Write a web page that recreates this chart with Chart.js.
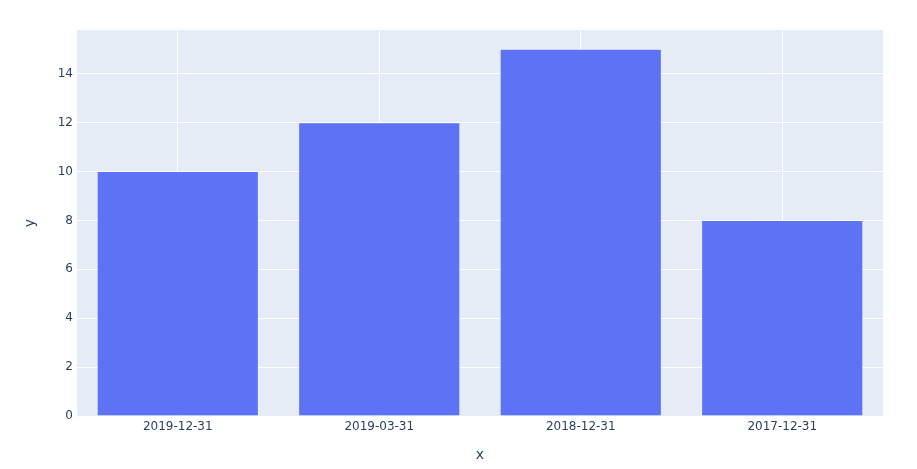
<!DOCTYPE html>
<html>
<head>
<meta charset="utf-8">
<script src="https://cdn.jsdelivr.net/npm/chart.js@4"></script>
<style>
  html, body { margin: 0; padding: 0; background: #fff; }
  #wrap { width: 917px; height: 469px; position: relative; }
</style>
</head>
<body>
<div id="wrap"><canvas id="chart"></canvas></div>
<script>
// data
const categories = ["2019-12-31", "2019-03-31", "2018-12-31", "2017-12-31"];
const values = [10, 12, 15, 8];
const yTicks = [0, 2, 4, 6, 8, 10, 12, 14];
const yMax = 15.79;

const textColor = "#2a3f5f";
const fontFamily = '"DejaVu Sans", Verdana, sans-serif';

// axis titles drawn like plotly puts them
const axisTitles = {
    id: "axisTitles",
    afterDraw(chart) {
        const { ctx, chartArea } = chart;
        ctx.save();
        ctx.fillStyle = textColor;
        ctx.font = "14px " + fontFamily;
        ctx.textAlign = "center";
        ctx.textBaseline = "middle";
        ctx.fillText("x", (chartArea.left + chartArea.right) / 2, 455);
        ctx.translate(30, (chartArea.top + chartArea.bottom) / 2);
        ctx.rotate(-Math.PI / 2);
        ctx.fillText("y", 0, 0);
        ctx.restore();
    },
};

const chart = new Chart(document.getElementById("chart"), {
    type: "bar",
    data: {
        labels: categories,
        datasets: [
            {
                data: values,
                backgroundColor: "#5e72f6",
                borderColor: "#e5ecf6",
                borderWidth: 0.5,
                barPercentage: 0.8,
                categoryPercentage: 1,
            },
        ],
    },
    options: {
        responsive: true,
        maintainAspectRatio: false,
        animation: false,
        layout: { padding: { top: 30, right: 34, left: 0, bottom: 0 } },
        scales: {
            x: {
                grid: { color: "#ffffff", lineWidth: 1, offset: false, drawTicks: false },
                border: { display: false },
                ticks: { color: textColor, font: { family: fontFamily, size: 12 }, padding: 4, maxRotation: 0 },
                afterFit: (scale) => { scale.height = 53; },
            },
            y: {
                min: 0,
                max: yMax,
                grid: { color: "#ffffff", lineWidth: 1, drawTicks: false },
                border: { display: false },
                ticks: { color: textColor, font: { family: fontFamily, size: 12 }, padding: 4 },
                afterBuildTicks: (scale) => { scale.ticks = yTicks.map((v) => ({ value: v })); },
                afterFit: (scale) => { scale.width = 77; },
            },
        },
        plugins: {
            legend: { display: false },
            tooltip: { enabled: false },
        },
    },
    plugins: [
        axisTitles,
        {
            id: "plotBg",
            beforeDraw(chart) {
                const { ctx, chartArea: a } = chart;
                ctx.save();
                ctx.fillStyle = "#e5ecf6";
                ctx.fillRect(a.left, a.top, a.right - a.left, a.bottom - a.top);
                ctx.restore();
            },
        },
    ],
});
</script>
</body>
</html>
